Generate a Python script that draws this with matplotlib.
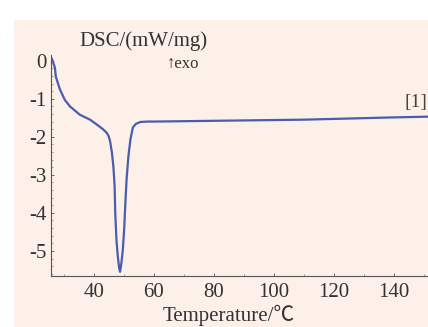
import matplotlib
matplotlib.use("Agg")
import matplotlib.pyplot as plt
from matplotlib.patches import Rectangle
from matplotlib.ticker import MultipleLocator

# DSC curve
temperature = [26.0, 27.0, 27.3, 28.7, 30.3, 32.0, 35.3, 38.7, 41.0, 43.0, 44.3,
               44.9, 45.4, 46.0, 46.5, 46.9, 47.1, 47.5, 47.9, 48.4, 48.7, 49.1,
               49.6, 50.1, 50.5, 50.9, 51.5, 52.2, 53.0, 54.0, 55.5, 58.0, 60.0,
               70.0, 80.0, 90.0, 100.0, 110.0, 120.0, 130.0, 140.0, 152.0]
dsc = [0.05, -0.18, -0.42, -0.76, -1.03, -1.2, -1.42, -1.55, -1.68, -1.8, -1.9,
       -1.98, -2.12, -2.42, -2.8, -3.3, -4.0, -4.7, -5.1, -5.45, -5.55, -5.35,
       -5.0, -4.4, -3.7, -3.1, -2.5, -2.05, -1.75, -1.66, -1.61, -1.6, -1.6,
       -1.59, -1.58, -1.57, -1.56, -1.55, -1.53, -1.51, -1.49, -1.47]
xticks = [40, 60, 80, 100, 120, 140]
yticks = [0, -1, -2, -3, -4, -5]

fonts = ["Liberation Serif", "Noto Sans CJK SC", "DejaVu Sans"]
plt.rcParams["font.family"] = fonts
plt.rcParams["axes.unicode_minus"] = False

W, H = 428, 327
fig = plt.figure(figsize=(W / 100, H / 100), dpi=100)
fig.patch.set_facecolor("white")
# cream page of the scan
fig.patches.append(Rectangle((14 / W, 0), 1, (H - 20) / H, transform=fig.transFigure,
                             facecolor="#fcf0e8", edgecolor="none", zorder=-10))

ax = fig.add_axes([51 / W, (H - 276) / H, 1 - 51 / W, (276 - 55) / H])
ax.set_zorder(1)
ax.set_facecolor("none")
ax.plot(temperature, dsc, color="#4a5cad", lw=1.6)

ax.set_xlim(25.7, 151.3)
ax.set_ylim(-5.66, 0.15)
ax.set_xticks(xticks)
ax.set_yticks(yticks)
ax.set_yticklabels([str(v) for v in yticks])
ax.xaxis.set_minor_locator(MultipleLocator(10))
ax.yaxis.set_minor_locator(MultipleLocator(0.2))
ax.tick_params(direction="in", length=2.5, width=0.6, colors="#555555",
               labelcolor="#333333", labelsize=15)
ax.tick_params(axis="x", pad=5)
ax.tick_params(axis="y", pad=3)
ax.tick_params(which="minor", direction="in", length=1.5, width=0.5, colors="#777777")
for s in ["top", "right"]:
    ax.spines[s].set_visible(False)
for s in ["left", "bottom"]:
    ax.spines[s].set_color("#555555")
    ax.spines[s].set_linewidth(0.8)

fig.text(143 / W, (H - 41) / H, "DSC/(mW/mg)", ha="center", va="center",
         fontsize=15, color="#333333")
fig.text(183 / W, (H - 64) / H, "\u2191exo", ha="center", va="center",
         fontsize=12, color="#333333")
fig.text(427 / W, (H - 102) / H, "[1]", ha="right", va="center",
         fontsize=14, color="#444444")
fig.text(229 / W, 1 / H, "Temperature/\u2103", ha="center", va="bottom",
         fontsize=15, color="#333333")

fig.savefig("out.png", dpi=100)
